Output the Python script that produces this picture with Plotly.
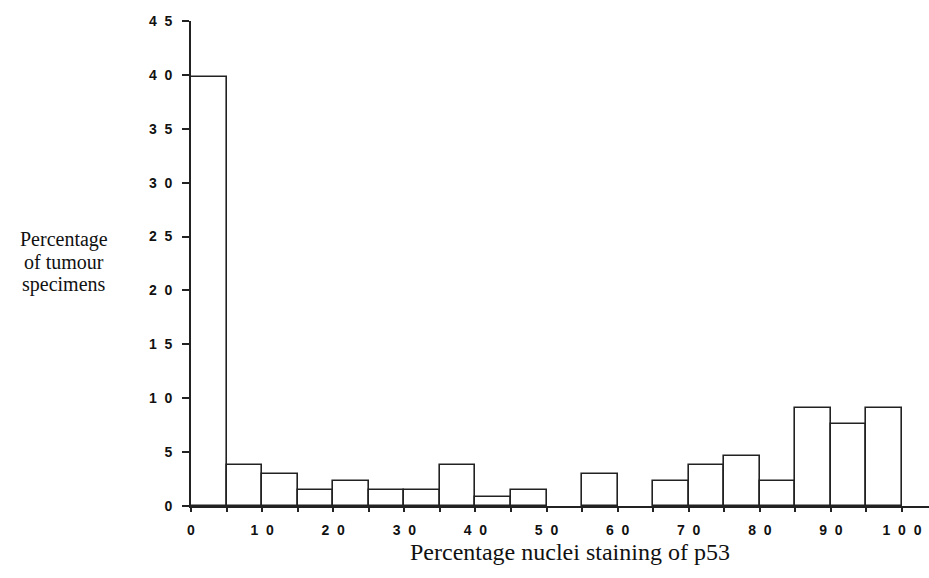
import plotly.graph_objects as go

bin_starts = [0, 5, 10, 15, 20, 25, 30, 35, 40, 45, 50, 55, 60, 65, 70, 75, 80, 85, 90, 95]
percent = [39.8, 3.8, 3.0, 1.5, 2.3, 1.5, 1.5, 3.8, 0.8, 1.5, 0, 3.0, 0, 2.3, 3.8, 4.6, 2.3, 9.1, 7.6, 9.1]
x_tick_vals = [0, 10, 20, 30, 40, 50, 60, 70, 80, 90, 100]
x_tick_text = ["0", "1 0", "2 0", "3 0", "4 0", "5 0", "6 0", "7 0", "8 0", "9 0", "1 0 0"]
y_tick_vals = [0, 5, 10, 15, 20, 25, 30, 35, 40, 45]
y_tick_text = ["0", "5", "1 0", "1 5", "2 0", "2 5", "3 0", "3 5", "4 0", "4 5"]
y_title_lines = ["Percentage", "of tumour", "specimens"]
x_title = "Percentage nuclei staining of p53"

W, H = 929, 578
L, R, T, B = 191, 0, 21, 72
plot_w = W - L - R
plot_h = H - T - B

def spaced(t):
    return t.replace(" ", "\u00a0\u00a0")

fig = go.Figure()
fig.add_trace(go.Bar(
    x=[s + 2.5 for s in bin_starts],
    y=percent,
    width=5,
    marker=dict(color="white",
                line=dict(color="#222", width=[1.6 if v > 0 else 0 for v in percent])),
    hoverinfo="x+y",
))

tick_font = dict(family="Liberation Sans, Arial, sans-serif", size=14, color="#111", weight="bold")
fig.update_layout(
    width=W, height=H,
    margin=dict(l=L, r=R, t=T, b=B, pad=0),
    paper_bgcolor="white", plot_bgcolor="white",
    showlegend=False,
    bargap=0,
    font=dict(family="Liberation Sans, Arial, sans-serif", color="#111"),
    xaxis=dict(
        range=[0, plot_w / 7.11],
        tickmode="array", tickvals=x_tick_vals, ticktext=[spaced(t) for t in x_tick_text],
        ticks="outside", ticklen=4, tickwidth=1.5, tickcolor="#222",
        minor=dict(tickmode="linear", tick0=0, dtick=5, ticks="outside", ticklen=4, tickwidth=1.5, tickcolor="#222"),
        showline=True, linecolor="#222", linewidth=1.6,
        showgrid=False, zeroline=False,
        tickfont=tick_font,
        ticklabelstandoff=6,
    ),
    yaxis=dict(
        range=[0, 45],
        tickmode="array", tickvals=y_tick_vals, ticktext=[spaced(t) for t in y_tick_text],
        ticks="outside", ticklen=7, tickwidth=1.5, tickcolor="#222",
        showline=True, linecolor="#222", linewidth=1.6,
        showgrid=False, zeroline=False,
        tickfont=tick_font,
        ticklabelstandoff=7,
    ),
)

# x-axis title
fig.add_annotation(
    text=x_title, xref="paper", yref="paper",
    x=(570 - L) / plot_w, y=-(552 - (T + plot_h)) / plot_h,
    xanchor="center", yanchor="middle", showarrow=False,
    font=dict(family="Liberation Serif, Times New Roman, serif", size=24, color="#111"),
)
# y-axis title (horizontal, three lines)
for i, line in enumerate(y_title_lines):
    ypix = 240 + 22 * i
    fig.add_annotation(
        text=line, xref="paper", yref="paper",
        x=(64 - L) / plot_w, y=(T + plot_h - ypix) / plot_h,
        xanchor="center", yanchor="middle", showarrow=False,
        font=dict(family="Liberation Serif, Times New Roman, serif", size=20, color="#111"),
    )

fig.write_html("out.html")
